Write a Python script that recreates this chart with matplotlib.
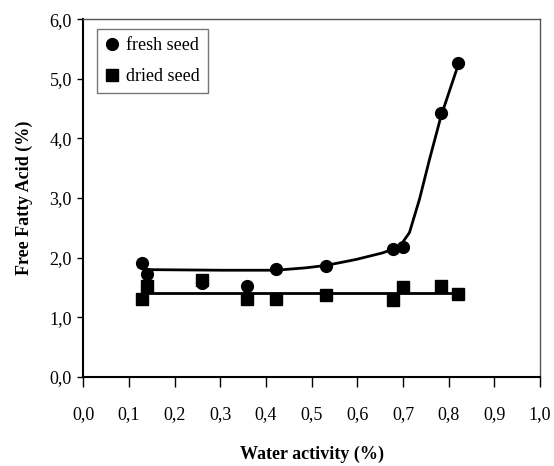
import matplotlib
matplotlib.use('Agg')
import matplotlib.pyplot as plt
from matplotlib.ticker import FuncFormatter

plt.rcParams['font.family'] = ['Liberation Serif', 'DejaVu Serif']

# fresh seed measurements
aw_fresh = [0.129, 0.139, 0.260, 0.359, 0.422, 0.531, 0.679, 0.699, 0.783, 0.821]
ffa_fresh = [1.91, 1.73, 1.57, 1.53, 1.81, 1.86, 2.15, 2.18, 4.42, 5.27]

# dried seed measurements
aw_dried = [0.129, 0.139, 0.260, 0.359, 0.422, 0.531, 0.679, 0.699, 0.783, 0.821]
ffa_dried = [1.30, 1.53, 1.63, 1.31, 1.31, 1.37, 1.29, 1.51, 1.53, 1.39]

# trend lines
trend_fresh_x = [0.139, 0.304, 0.422, 0.487, 0.531, 0.597, 0.655, 0.692, 0.714, 0.736, 0.758, 0.783, 0.821]
trend_fresh_y = [1.80, 1.79, 1.79, 1.83, 1.87, 1.97, 2.08, 2.18, 2.42, 2.98, 3.65, 4.37, 5.24]
trend_dried_x = [0.129, 0.821]
trend_dried_y = [1.40, 1.40]

fig = plt.figure(figsize=(5.54, 4.66), dpi=100)
ax = fig.add_axes([0.150, 0.191, 0.825, 0.768])

ax.plot(trend_fresh_x, trend_fresh_y, '-', color='black', lw=2, solid_joinstyle='round')
ax.plot(trend_dried_x, trend_dried_y, '-', color='black', lw=2)
ax.plot(aw_fresh, ffa_fresh, 'o', color='black', ms=8.5, label='fresh seed')
ax.plot(aw_dried, ffa_dried, 's', color='black', ms=8, label='dried seed')

ax.set_xlim(0, 1.0)
ax.set_ylim(0, 6.0)
ax.set_xticks([i / 10 for i in range(11)])
ax.set_yticks(range(7))
comma = FuncFormatter(lambda v, p: ('%.1f' % v).replace('.', ','))
ax.xaxis.set_major_formatter(comma)
ax.yaxis.set_major_formatter(comma)
ax.tick_params(direction='out', width=1, labelsize=13, colors='black')
ax.tick_params(axis='y', length=4, pad=4)
ax.tick_params(axis='x', length=7, pad=14)

for s in ['top', 'right']:
    ax.spines[s].set_color('#555555')
    ax.spines[s].set_linewidth(1)
for s in ['left', 'bottom']:
    ax.spines[s].set_linewidth(1.5)

ax.set_xlabel('Water activity (%)', fontsize=13, fontweight='bold', labelpad=16)
ax.set_ylabel('Free Fatty Acid (%)', fontsize=13, fontweight='bold', labelpad=12)

leg = ax.legend(loc='upper left', bbox_to_anchor=(0.01, 0.997), fontsize=13,
                frameon=True, fancybox=False, edgecolor='#555555',
                handlelength=0.8, handletextpad=0.4, borderpad=0.45, labelspacing=0.75)
leg.get_frame().set_linewidth(1)

fig.savefig('out.png', dpi=100)
